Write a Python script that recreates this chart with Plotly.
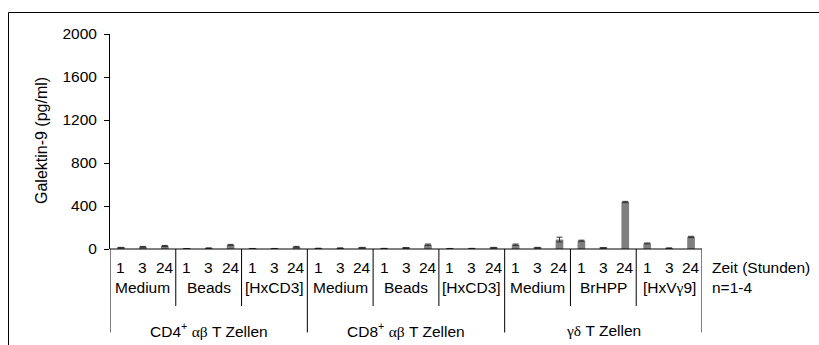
import plotly.graph_objects as go

# Galektin-9 release per cell type, stimulus and time point
cell_types = ["CD4<sup>+</sup> <span style=\"font-family:'Liberation Serif'\">αβ</span> T Zellen",
              "CD8<sup>+</sup> <span style=\"font-family:'Liberation Serif'\">αβ</span> T Zellen",
              "<span style=\"font-family:'Liberation Serif'\">γδ</span> T Zellen"]
treatments = ["Medium", "Beads", "[HxCD3]",
              "Medium", "Beads", "[HxCD3]",
              "Medium", "BrHPP", "[HxV<span style=\"font-family:'Liberation Serif'\">γ</span>9]"]
hours = ["1", "3", "24"]

values = [12, 20, 28,   3, 8, 37,   4, 4, 20,
          6, 8, 12,     5, 10, 40,  4, 5, 12,
          40, 12, 88,   77, 10, 437, 52, 8, 112]
errors = [3, 4, 5,      1, 2, 6,    1, 1, 4,
          1, 2, 3,      1, 2, 6,    1, 1, 3,
          6, 3, 22,     5, 2, 6,    4, 2, 6]

yticks = [0, 400, 800, 1200, 1600, 2000]

W, H = 819, 345
L, R, T, B = 110, 702, 34, 249
FONT = "Liberation Sans, Arial, sans-serif"


def px(x):
    return (x - L) / (R - L)


def py(y):
    return (B - y) / (B - T)


n = len(values)
xs = list(range(n))

fig = go.Figure()
fig.add_trace(go.Bar(
    x=xs, y=values, width=0.35,
    marker=dict(color="#7f7f7f", line=dict(width=0)),
    error_y=dict(type="data", array=errors, visible=True,
                 color="#333333", thickness=1, width=3),
    showlegend=False,
))

shapes = []
annotations = []

# x-axis baseline
shapes.append(dict(type="line", xref="x", yref="paper",
                   x0=-0.5, x1=n - 0.5, y0=0, y1=0,
                   line=dict(color="black", width=1)))

# time-point labels
for i in range(n):
    annotations.append(dict(x=i, y=py(267.5), xref="x", yref="paper",
                            text=hours[i % 3], showarrow=False,
                            xanchor="center", yanchor="middle",
                            font=dict(size=15.5, color="black", family=FONT)))

# treatment labels and separators
for g, name in enumerate(treatments):
    annotations.append(dict(x=g * 3 + 1, y=py(287), xref="x", yref="paper",
                            text=name, showarrow=False,
                            xanchor="center", yanchor="middle",
                            font=dict(size=15.5, color="black", family=FONT)))
for g in range(len(treatments) + 1):
    xb = g * 3 - 0.5
    bottom = 332.5 if g % 3 == 0 else 306
    shapes.append(dict(type="line", xref="x", yref="paper",
                       x0=xb, x1=xb, y0=0, y1=py(bottom),
                       line=dict(color="black", width=1)))

# cell type labels
for c, name in enumerate(cell_types):
    annotations.append(dict(x=c * 9 + 4, y=py(330), xref="x", yref="paper",
                            text=name, showarrow=False,
                            xanchor="center", yanchor="middle",
                            font=dict(size=15.5, color="black", family=FONT)))

# row captions on the right
annotations.append(dict(x=px(710), y=py(267.5), xref="paper", yref="paper",
                        text="Zeit (Stunden)", showarrow=False,
                        xanchor="left", yanchor="middle",
                        font=dict(size=15.5, color="black", family=FONT)))
annotations.append(dict(x=px(710), y=py(287), xref="paper", yref="paper",
                        text="n=1-4", showarrow=False,
                        xanchor="left", yanchor="middle",
                        font=dict(size=15.5, color="black", family=FONT)))

# y-axis title
annotations.append(dict(x=px(41), y=py(141), xref="paper", yref="paper",
                        text="Galektin-9 (pg/ml)", showarrow=False,
                        textangle=-90, xanchor="center", yanchor="middle",
                        font=dict(size=16, color="black", family=FONT)))

# outer frame
shapes.append(dict(type="rect", xref="paper", yref="paper",
                   x0=px(8.5), x1=px(840), y0=py(12.5), y1=py(360),
                   line=dict(color="black", width=1)))

fig.update_layout(
    width=W, height=H,
    margin=dict(l=L, r=W - R, t=T, b=H - B, pad=0),
    paper_bgcolor="white", plot_bgcolor="white",
    bargap=0.65,
    xaxis=dict(range=[-0.5, n - 0.5], showticklabels=False, ticks="",
               showgrid=False, zeroline=False, showline=False, fixedrange=True),
    yaxis=dict(range=[0, 2000], tickvals=yticks, ticktext=[str(v) for v in yticks],
               ticks="outside", ticklen=5, tickcolor="black", tickwidth=1,
               ticklabelstandoff=4,
               showline=True, linecolor="black", linewidth=1,
               showgrid=False, zeroline=False,
               tickfont=dict(size=15.5, color="black", family=FONT)),
    shapes=shapes,
    annotations=annotations,
)

fig.write_html("out.html")
